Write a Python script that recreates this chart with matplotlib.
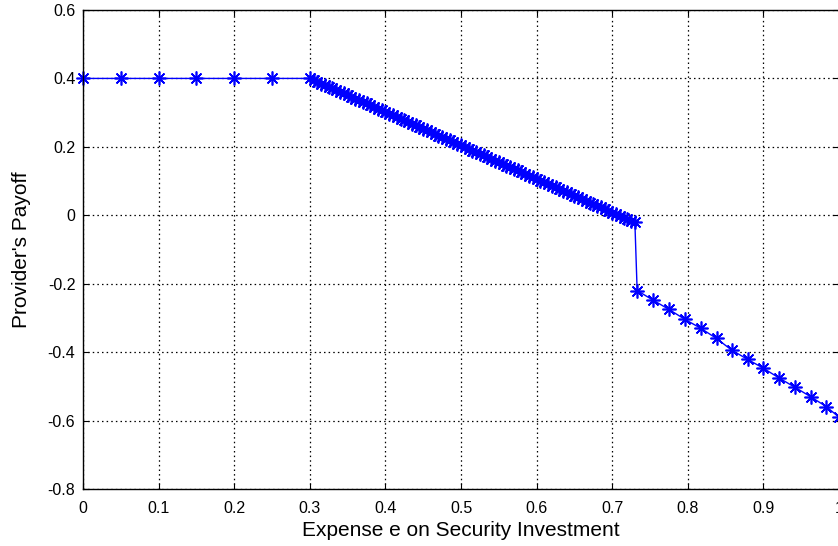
import matplotlib.pyplot as plt

plt.rcParams['font.family'] = ['Liberation Sans', 'DejaVu Sans']
plt.rcParams['axes.unicode_minus'] = False

# flat part: payoff stays at 0.4
e_flat = [0.00, 0.05, 0.10, 0.15, 0.20, 0.25, 0.30]
p_flat = [0.40, 0.40, 0.40, 0.40, 0.40, 0.40, 0.40]

# dense decreasing part
e_dense = [0.300, 0.305, 0.310, 0.315, 0.320, 0.325, 0.330, 0.335, 0.340, 0.345,
           0.350, 0.355, 0.360, 0.365, 0.370, 0.375, 0.380, 0.385, 0.390, 0.395,
           0.400, 0.405, 0.410, 0.415, 0.420, 0.425, 0.430, 0.435, 0.440, 0.445,
           0.450, 0.455, 0.460, 0.465, 0.470, 0.475, 0.480, 0.485, 0.490, 0.495,
           0.500, 0.505, 0.510, 0.515, 0.520, 0.525, 0.530, 0.535, 0.540, 0.545,
           0.550, 0.555, 0.560, 0.565, 0.570, 0.575, 0.580, 0.585, 0.590, 0.595,
           0.600, 0.605, 0.610, 0.615, 0.620, 0.625, 0.630, 0.635, 0.640, 0.645,
           0.650, 0.655, 0.660, 0.665, 0.670, 0.675, 0.680, 0.685, 0.690, 0.695,
           0.700, 0.705, 0.710, 0.715, 0.720, 0.725, 0.730]
p_dense = [0.400, 0.395, 0.390, 0.385, 0.380, 0.376, 0.371, 0.366, 0.361, 0.356,
           0.351, 0.346, 0.341, 0.336, 0.331, 0.327, 0.322, 0.317, 0.312, 0.307,
           0.302, 0.297, 0.292, 0.287, 0.282, 0.278, 0.273, 0.268, 0.263, 0.258,
           0.253, 0.248, 0.243, 0.238, 0.233, 0.229, 0.224, 0.219, 0.214, 0.209,
           0.204, 0.199, 0.194, 0.189, 0.184, 0.180, 0.175, 0.170, 0.165, 0.160,
           0.155, 0.150, 0.145, 0.140, 0.135, 0.131, 0.126, 0.121, 0.116, 0.111,
           0.106, 0.101, 0.096, 0.091, 0.086, 0.082, 0.077, 0.072, 0.067, 0.062,
           0.057, 0.052, 0.047, 0.042, 0.037, 0.033, 0.028, 0.023, 0.018, 0.013,
           0.008, 0.003, -0.002, -0.007, -0.012, -0.016, -0.021]

# after the drop
e_low = [0.733, 0.754, 0.775, 0.796, 0.817, 0.838, 0.858, 0.879, 0.900, 0.921,
         0.942, 0.963, 0.983, 1.000]
p_low = [-0.220, -0.248, -0.275, -0.304, -0.330, -0.360, -0.394, -0.421, -0.447,
         -0.476, -0.503, -0.531, -0.559, -0.590]

x_ticks = [0, 0.1, 0.2, 0.3, 0.4, 0.5, 0.6, 0.7, 0.8, 0.9, 1]
x_labels = ['0', '0.1', '0.2', '0.3', '0.4', '0.5', '0.6', '0.7', '0.8', '0.9', '1']
y_ticks = [-0.8, -0.6, -0.4, -0.2, 0, 0.2, 0.4, 0.6]
y_labels = ['-0.8', '-0.6', '-0.4', '-0.2', '0', '0.2', '0.4', '0.6']

e_all = e_flat + e_dense[1:] + e_low
p_all = p_flat + p_dense[1:] + p_low

fig = plt.figure(figsize=(8.38, 5.46), dpi=100)
ax = fig.add_axes([83 / 838, 57 / 546, 756 / 838, 479 / 546])

ax.plot(e_all, p_all, '-', color='#0000ff', lw=1.0,
        marker=(8, 2, 0), markersize=10, markeredgewidth=1.2, clip_on=False)

ax.set_xlim(0, 1)
ax.set_ylim(-0.8, 0.6)
ax.set_xticks(x_ticks)
ax.set_xticklabels(x_labels)
ax.set_yticks(y_ticks)
ax.set_yticklabels(y_labels)
ax.tick_params(direction='in', top=True, right=True, length=4, labelsize=11.5, pad=5.5)
ax.tick_params(axis='x', pad=8.5)
ax.grid(True, linestyle=(0, (1.2, 2.5)), color='black', lw=0.9)
for s in ax.spines.values():
    s.set_linewidth(1.0)

ax.set_xlabel('Expense e on Security Investment', fontsize=15, labelpad=4)
ax.set_ylabel("Provider's Payoff", fontsize=15, labelpad=12)

fig.savefig('out.png', dpi=100)
